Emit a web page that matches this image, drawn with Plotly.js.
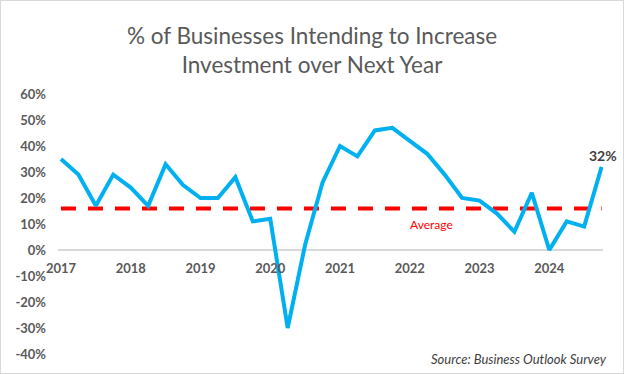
<!DOCTYPE html>
<html>
<head>
<meta charset="utf-8">
<script src="https://cdn.plot.ly/plotly-3.0.1.min.js"></script>
<style>
  html, body { margin: 0; padding: 0; background: #ffffff; }
  #wrap { width: 624px; height: 374px; box-sizing: border-box; border: 1px solid #d9d9d9; }
  #chart { width: 622px; height: 372px; }
</style>
</head>
<body>
<div id="wrap"><div id="chart"></div></div>
<script>
// Quarterly categories, 2017 Q1 .. 2024 Q4
const quarters = [
  "2017 Q1","2017 Q2","2017 Q3","2017 Q4",
  "2018 Q1","2018 Q2","2018 Q3","2018 Q4",
  "2019 Q1","2019 Q2","2019 Q3","2019 Q4",
  "2020 Q1","2020 Q2","2020 Q3","2020 Q4",
  "2021 Q1","2021 Q2","2021 Q3","2021 Q4",
  "2022 Q1","2022 Q2","2022 Q3","2022 Q4",
  "2023 Q1","2023 Q2","2023 Q3","2023 Q4",
  "2024 Q1","2024 Q2","2024 Q3","2024 Q4"
];
// % of businesses intending to increase investment
const values = [
  35, 29, 17, 29,
  24, 17, 33, 25,
  20, 20, 28, 11,
  12, -30, 2, 26,
  40, 36, 46, 47,
  42, 37, 29, 20,
  19, 14, 7, 22,
  0, 11, 9, 32
];
const averageValue = 16;
const yearTicks = ["2017 Q1","2018 Q1","2019 Q1","2020 Q1","2021 Q1","2022 Q1","2023 Q1","2024 Q1"];
const yearLabels = ["2017","2018","2019","2020","2021","2022","2023","2024"];
const yTickVals = [60, 50, 40, 30, 20, 10, 0, -10, -20, -30, -40];
const yTickText = yTickVals.map(v => v + "%");

const FONT = "Lato, 'Open Sans', sans-serif";
const GREY = "#595959";

const traces = [
  {
    x: quarters,
    y: quarters.map(() => averageValue),
    type: "scatter",
    mode: "lines",
    line: { color: "#FF0000", width: 4, dash: "15px,12px" },
    hoverinfo: "skip",
    showlegend: false
  },
  {
    x: quarters,
    y: values,
    type: "scatter",
    mode: "lines",
    line: { color: "#00B0F0", width: 4 },
    showlegend: false
  }
];

const last = values.length - 1;

const layout = {
  width: 622,
  height: 372,
  margin: { l: 57, r: 20, t: 93, b: 19 },
  paper_bgcolor: "#ffffff",
  plot_bgcolor: "#ffffff",
  font: { family: FONT, color: GREY },
  title: {
    text: "% of Businesses Intending to Increase<br>Investment over Next Year",
    font: { family: FONT, size: 22.5, color: GREY },
    x: 0.5, xanchor: "center",
    yref: "container", y: 1 - 43 / 372, yanchor: "middle"
  },
  xaxis: {
    type: "category",
    range: [-0.17, 31.08],
    anchor: "free",
    position: 0.4,
    tickvals: yearTicks,
    ticktext: yearLabels,
    ticks: "",
    showgrid: false,
    showline: false,
    zeroline: false,
    ticklabelstandoff: 9,
    tickfont: { family: FONT, size: 13, color: GREY, weight: "bold" }
  },
  yaxis: {
    range: [-40, 60],
    tickvals: yTickVals,
    ticktext: yTickText,
    ticks: "",
    showgrid: false,
    showline: false,
    zeroline: true,
    zerolinecolor: "#d9d9d9",
    zerolinewidth: 1.5,
    ticklabelstandoff: 11,
    tickfont: { family: FONT, size: 13, color: GREY, weight: "bold" }
  },
  annotations: [
    {
      x: quarters[last], y: values[last],
      xref: "x", yref: "y",
      text: values[last] + "%",
      showarrow: false,
      yshift: 11, xshift: 1,
      font: { family: FONT, size: 14, color: "#404040", weight: "bold" }
    },
    {
      x: quarters[21], y: averageValue,
      xref: "x", yref: "y",
      text: "Average",
      showarrow: false,
      xshift: 4, yshift: -16,
      font: { family: FONT, size: 12, color: "#FF0000" }
    },
    {
      x: 1.0116, y: -0.019,
      xref: "paper", yref: "paper",
      xanchor: "right", yanchor: "middle",
      text: "<i>Source: Business Outlook Survey</i>",
      showarrow: false,
      font: { family: FONT, size: 13, color: "#404040" }
    }
  ]
};

Plotly.newPlot("chart", traces, layout, { displayModeBar: false, staticPlot: true });
</script>
</body>
</html>
